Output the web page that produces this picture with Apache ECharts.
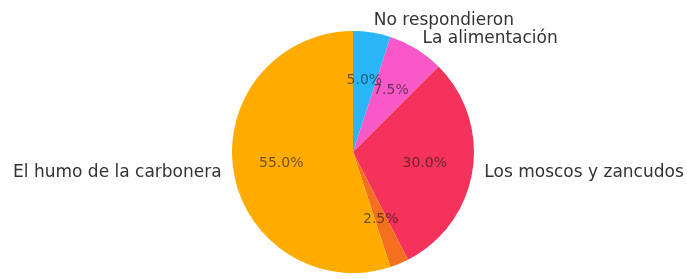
<!DOCTYPE html>
<html>
<head>
<meta charset="utf-8">
<script src="https://cdn.jsdelivr.net/npm/echarts@6/dist/echarts.min.js"></script>
<style>
html,body{margin:0;padding:0;background:#fff;}
#chart{width:687px;height:279px;}
</style>
</head>
<body>
<div id="chart"></div>
<script>
// Data (clockwise from 12 o'clock)
var categories = ['No respondieron', 'La alimentación', 'Los moscos y zancudos', '', 'El humo de la carbonera'];
var values = [5.0, 7.5, 30.0, 2.5, 55.0];
var colors = ['#29b6f6', '#f858c8', '#f5325a', '#f4701f', '#ffab00'];

var total = values.reduce(function (a, b) { return a + b; }, 0);
var data = categories.map(function (c, i) {
  return { name: c, value: values[i], itemStyle: { color: colors[i] } };
});
// percentage labels placed at 0.6 of the radius, at each slice's middle angle (polar axes)
var cum = 0;
var pctData = values.map(function (v) {
  var mid = cum + v / 2;
  cum += v;
  return { value: [0.6, mid / total * 100], pct: v / total * 100 };
});

var R = 121;
var center = [353, 152];
var chart = echarts.init(document.getElementById('chart'), null, { renderer: 'canvas' });
chart.setOption({
  animation: false,
  backgroundColor: '#ffffff',
  polar: { center: center, radius: R },
  angleAxis: { type: 'value', min: 0, max: 100, startAngle: 90, clockwise: true, show: false },
  radiusAxis: { type: 'value', min: 0, max: 1, show: false },
  series: [
    {
      type: 'pie',
      center: center,
      radius: [0, R],
      startAngle: 90,
      clockwise: true,
      avoidLabelOverlap: false,
      silent: true,
      data: data,
      itemStyle: { borderWidth: 0 },
      label: {
        show: true,
        position: 'outside',
        distanceToLabelLine: 0,
        fontFamily: 'DejaVu Sans',
        fontSize: 17,
        color: '#333333',
        formatter: function (p) { return p.name; }
      },
      labelLine: { show: false, length: 12, length2: 0 },
      emphasis: { disabled: true }
    },
    {
      type: 'scatter',
      coordinateSystem: 'polar',
      silent: true,
      symbolSize: 1,
      itemStyle: { color: 'rgba(0,0,0,0)' },
      data: pctData,
      z: 10,
      label: {
        show: true,
        position: 'inside',
        fontFamily: 'DejaVu Sans',
        fontSize: 14,
        color: 'rgba(30,30,30,0.8)',
        formatter: function (p) { return p.data.pct.toFixed(1) + '%'; }
      },
      emphasis: { disabled: true }
    }
  ]
});
</script>
</body>
</html>
